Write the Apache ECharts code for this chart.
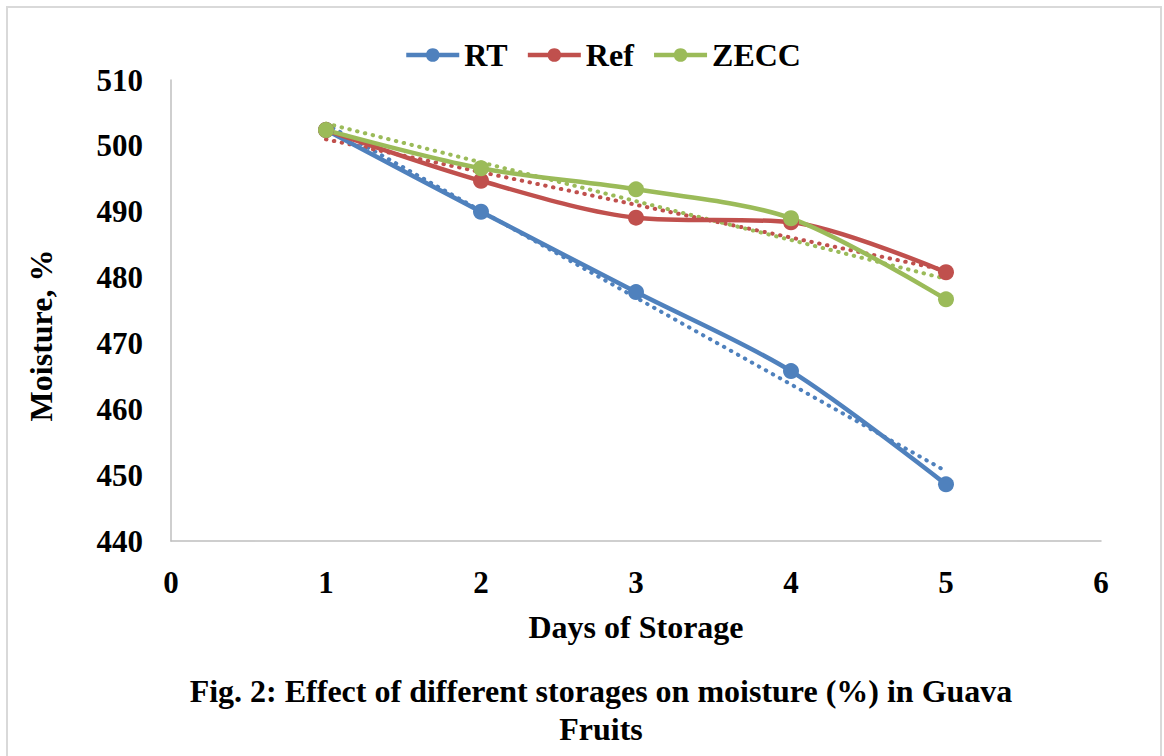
<!DOCTYPE html>
<html>
<head>
<meta charset="utf-8">
<script src="https://cdn.jsdelivr.net/npm/echarts@6/dist/echarts.min.js"></script>
<style>
html,body{margin:0;padding:0;background:#fff;}
#chart{width:1164px;height:756px;}
</style>
</head>
<body>
<div id="chart"></div>
<script>
const days = [1, 2, 3, 4, 5];
const rtValues = [502.4, 490.0, 477.8, 465.8, 448.6];
const refValues = [502.4, 494.7, 489.1, 488.4, 480.8];
const zeccValues = [502.4, 496.6, 493.4, 489.0, 476.7];
const trendDays = [1, 5];
const rtTrend = [503.3, 450.6];
const refTrend = [501.0, 481.1];
const zeccTrend = [503.4, 479.8];
const xTicks = [0, 1, 2, 3, 4, 5, 6];
const yTicks = [440, 450, 460, 470, 480, 490, 500, 510];

const colors = {RT: '#4f81bd', Ref: '#c0504d', ZECC: '#9bbb59'};
const font = 'Liberation Serif, Times New Roman, serif';

function pairs(xs, ys){ return xs.map((x,i)=>[x, ys[i]]); }

function mainSeries(name, vals){
  return {
    name: name, type: 'line', data: pairs(days, vals), smooth: 0.3,
    symbol: 'circle', symbolSize: 16,
    lineStyle: {width: 4.5, color: colors[name]},
    itemStyle: {color: colors[name]},
    z: 3
  };
}
function trendSeries(name, vals){
  return {
    name: name + ' trend', type: 'line', data: pairs(trendDays, vals),
    symbol: 'none', silent: true,
    lineStyle: {width: 4, color: colors[name], type: [0.5, 7.5], cap: 'round'},
    z: 2
  };
}

const chart = echarts.init(document.getElementById('chart'), null, {renderer: 'svg'});
chart.setOption({
  backgroundColor: '#fff',
  animation: false,
  graphic: [
    {type: 'rect', shape: {x: 7, y: 7, width: 1154, height: 760},
     style: {fill: 'none', stroke: '#d9d9d9', lineWidth: 2}, silent: true},
    {type: 'text', x: 601, y: 672,
     style: {text: 'Fig. 2: Effect of different storages on moisture (%) in Guava\nFruits',
       fill: '#000', font: 'bold 32px ' + font, textAlign: 'center', lineHeight: 38}}
  ],
  legend: {
    data: ['RT', 'Ref', 'ZECC'], top: 34, left: 399,
    itemWidth: 53, itemHeight: 17, itemGap: 18,
    lineStyle: {width: 4.5},
    textStyle: {fontFamily: font, fontWeight: 'bold', fontSize: 32, color: '#000'}
  },
  grid: {left: 171, right: 63, top: 80, bottom: 215},
  xAxis: {
    type: 'value', min: xTicks[0], max: xTicks[xTicks.length-1], interval: 1,
    name: 'Days of Storage', nameLocation: 'middle', nameGap: 70,
    nameTextStyle: {fontFamily: font, fontWeight: 'bold', fontSize: 32, color: '#000'},
    axisLine: {show: true, lineStyle: {color: '#bfbfbf', width: 1.5}},
    axisTick: {show: false}, splitLine: {show: false},
    axisLabel: {fontFamily: font, fontWeight: 'bold', fontSize: 31, color: '#000', margin: 26}
  },
  yAxis: {
    type: 'value', min: yTicks[0], max: yTicks[yTicks.length-1], interval: 10,
    name: 'Moisture, %', nameLocation: 'middle', nameGap: 114,
    nameTextStyle: {fontFamily: font, fontWeight: 'bold', fontSize: 32, color: '#000', padding: [0, 50, 0, 0]},
    axisLine: {show: true, lineStyle: {color: '#bfbfbf', width: 1.5}},
    axisTick: {show: false}, splitLine: {show: false},
    axisLabel: {fontFamily: font, fontWeight: 'bold', fontSize: 31, color: '#000', margin: 28}
  },
  series: [
    mainSeries('RT', rtValues),
    mainSeries('Ref', refValues),
    mainSeries('ZECC', zeccValues),
    trendSeries('RT', rtTrend),
    trendSeries('Ref', refTrend),
    trendSeries('ZECC', zeccTrend)
  ]
});
</script>
</body>
</html>
